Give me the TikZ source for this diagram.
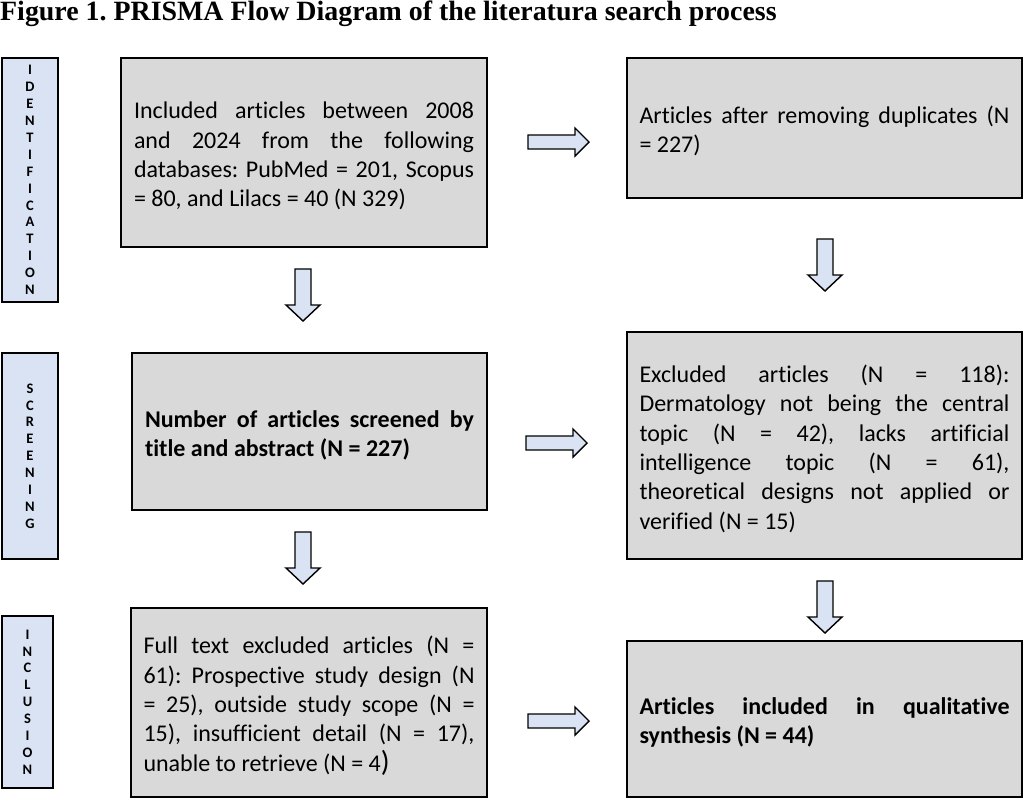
\documentclass[tikz,border=0pt]{standalone}
\usepackage{fontspec}
\setmainfont{Carlito}[Ligatures=NoCommon]
\newfontfamily\titlefont{Liberation Serif}
\definecolor{boxgray}{HTML}{D9D9D9}
\definecolor{paleblue}{HTML}{DAE3F3}
\tolerance=10000
\hbadness=10000
\frenchspacing
\newcommand\mytopstrut{\rule{0pt}{24pt}}
\begin{document}
\begin{tikzpicture}[x=1pt,y=-1pt,
  box/.style={draw=black, line width=2.5pt, fill=boxgray, inner sep=0pt, align=justify,
    font=\fontsize{24}{29.3}\selectfont},
  lab/.style={draw=black, line width=2.5pt, fill=paleblue, inner sep=0pt, align=center,
    font=\fontsize{14.5}{16.9}\selectfont\bfseries},
  arrowsty/.style={draw=black, line width=1.4pt, fill=paleblue, line join=miter},
  rarr/.pic={\draw[arrowsty] (0,-7) -- (47,-7) -- (47,-14) -- (61,0) -- (47,14) -- (47,7) -- (0,7) -- cycle;},
  darr/.pic={\draw[arrowsty] (-8,0) -- (-8,36) -- (-17,36) -- (0,52) -- (17,36) -- (8,36) -- (8,0) -- cycle;}]
\useasboundingbox (0,0) rectangle (1024,798);

\node[anchor=base west, inner sep=0pt, font=\titlefont\bfseries\fontsize{27.9}{30}\selectfont] (title) at (0,20.5)
  {Figure 1. PRISMA Flow Diagram of the literatura search process};

% stage labels
\node[lab, minimum width=56pt, minimum height=244pt] (lab1) at (30,180)
  {I\\D\\E\\N\\T\\I\\F\\I\\C\\A\\T\\I\\O\\N};
\node[lab, minimum width=56pt, minimum height=206pt] (lab2) at (30,456)
  {S\\C\\R\\E\\E\\N\\I\\N\\G};
\node[lab, minimum width=51pt, minimum height=172pt] (lab3) at (27.5,702)
  {I\\N\\C\\L\\U\\S\\I\\O\\N};

% left column
\node[box, minimum width=366pt, minimum height=189pt, text width=340pt] (b1) at (304,152.5)
  {\mytopstrut Included articles between 2008 \linebreak and 2024 from the following \linebreak databases: PubMed = 201, Scopus \linebreak = 80, and Lilacs = 40 (N 329)};
\node[box, minimum width=355pt, minimum height=157pt, text width=329pt, font=\fontsize{24}{29.3}\selectfont\bfseries] (b2) at (309.5,431.5)
  {\mytopstrut Number of articles screened by \linebreak title and abstract (N = 227)};
\node[box, minimum width=356pt, minimum height=189pt, text width=331pt] (b3) at (309,702.5)
  {\mytopstrut Full text excluded articles (N = \linebreak 61): Prospective study design (N \linebreak = 25), outside study scope (N = \linebreak 15), insufficient detail (N = 17), \linebreak unable to retrieve (N = 4{\fontsize{29}{30}\selectfont)}};

% right column
\node[box, minimum width=395pt, minimum height=140pt, text width=370pt] (r1) at (824.5,128)
  {\mytopstrut Articles after removing duplicates (N \linebreak = 227)};
\node[box, minimum width=395pt, minimum height=227pt, text width=370pt] (r2) at (824.5,445.5)
  {\mytopstrut Excluded articles (N = 118): \linebreak Dermatology not being the central \linebreak topic (N = 42), lacks artificial \linebreak intelligence topic (N = 61), \linebreak theoretical designs not applied or \linebreak verified (N = 15)};
\node[box, minimum width=395pt, minimum height=156pt, text width=370pt, font=\fontsize{24}{29.3}\selectfont\bfseries] (r3) at (824.5,719)
  {\mytopstrut Articles included in qualitative \linebreak synthesis (N = 44)};

% block arrows
\pic at (528,142) {rarr};
\pic at (526,443) {rarr};
\pic at (528,721) {rarr};
\pic at (303,269) {darr};
\pic at (303,532) {darr};
\pic at (825,239) {darr};
\pic at (825,581) {darr};
\end{tikzpicture}
\end{document}
